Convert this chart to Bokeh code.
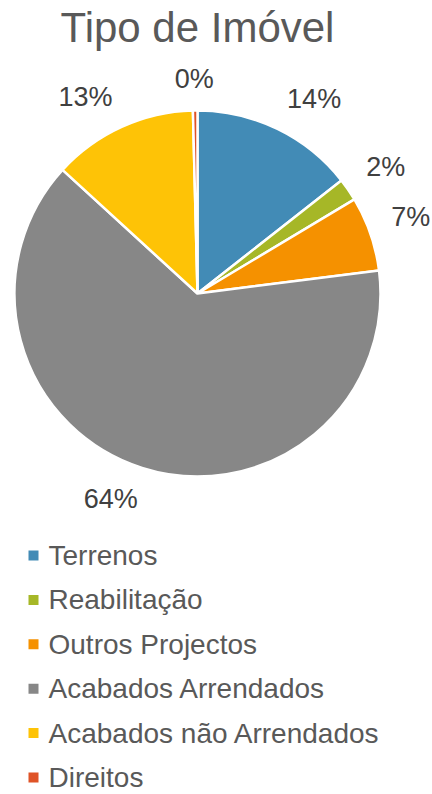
import math
from bokeh.plotting import figure
from bokeh.models import ColumnDataSource
from bokeh.core.properties import value
from bokeh.embed import file_html
from bokeh.resources import INLINE

categories = ["Terrenos", "Reabilitação", "Outros Projectos", "Acabados Arrendados",
              "Acabados não Arrendados", "Direitos"]
shares = [14.4, 2.0, 6.6, 63.8, 12.8, 0.4]
colors = ["#428BB6", "#A6B727", "#F59100", "#878787", "#FEC306", "#DF5327"]
title_text = "Tipo de Imóvel"

W, H = 432, 794
cx, cy, R = 197, H - 293, 183
label_r = 205
label_fs = 27

total = sum(shares)
starts, ends, lx, ly, labels = [], [], [], [], []
cum = 0.0
for s in shares:
    a0 = math.pi / 2 - cum / total * 2 * math.pi
    cum += s
    a1 = math.pi / 2 - cum / total * 2 * math.pi
    starts.append(a0)
    ends.append(a1)
    mid = (a0 + a1) / 2
    lab = f"{round(s / total * 100)}%"
    labels.append(lab)
    half_w = label_fs * (0.556 * (len(lab) - 1) + 0.889) / 2
    half_h = 10
    c, sn = math.cos(mid), math.sin(mid)
    lx.append(cx + label_r * c + half_w * max(-1, min(1, 3 * c)))
    ly.append(cy + label_r * sn + half_h * max(-1, min(1, 3 * sn)))

src = ColumnDataSource(dict(start=starts, end=ends, color=colors, lx=lx, ly=ly, lab=labels))

p = figure(width=W, height=H, x_range=(0, W), y_range=(0, H), output_backend="svg",
           toolbar_location=None, min_border=0)
p.axis.visible = False
p.grid.visible = False
p.outline_line_color = None
p.background_fill_color = "white"
p.border_fill_color = "white"

p.wedge(x=cx, y=cy, radius=R, start_angle="start", end_angle="end", direction="clock",
        fill_color="color", line_color="white", line_width=2.5, source=src)

p.text(x="lx", y="ly", text="lab", source=src, text_align="center", text_baseline="middle",
       text_font=value("Liberation Sans"), text_font_size=f"{label_fs}px", text_color="#404040")

p.text(x=[197], y=[H - 27], text=[title_text], text_align="center", text_baseline="middle",
       text_font=value("Liberation Sans"), text_font_size="42px", text_color="#595959")

leg_y = [H - (555 + i * 44.4) for i in range(len(categories))]
leg_src = ColumnDataSource(dict(y=leg_y, color=colors, name=categories))
p.rect(x=33, y="y", width=10, height=10, fill_color="color", line_color=None, source=leg_src)
p.text(x=48, y="y", text="name", source=leg_src, text_align="left", text_baseline="middle",
       text_font=value("Liberation Sans"), text_font_size="28px", text_color="#595959")

open("out.html", "w").write(file_html(p, INLINE))
